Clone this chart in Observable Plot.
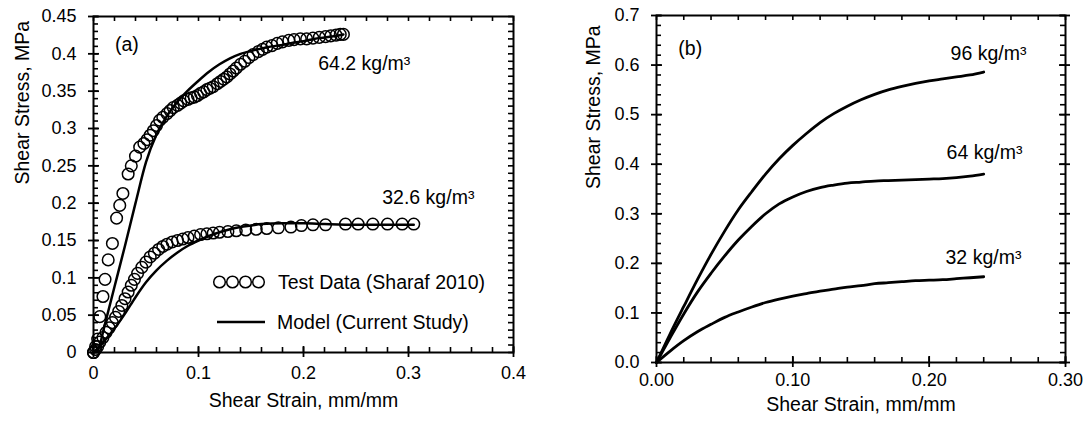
<!DOCTYPE html>
<html><head><meta charset="utf-8">
<script src="https://cdn.jsdelivr.net/npm/d3@7"></script>
<script src="https://cdn.jsdelivr.net/npm/@observablehq/plot@0.6"></script>
<style>
html,body{margin:0;padding:0;background:#fff;}
#wrap{position:relative;width:1091px;height:425px;overflow:hidden;font-family:"Liberation Sans",Arial,sans-serif;color:#000;}
#left{position:absolute;left:0;top:0;}
#right{position:absolute;left:545px;top:0;}
.lg{position:absolute;font-size:19.5px;line-height:20px;white-space:nowrap;color:#000;}
#lgsym{position:absolute;left:205px;top:270px;}
</style></head><body>
<div id="wrap"><div id="left"></div><div id="right"></div>
<svg id="lgsym" width="70" height="62"></svg>
<div class="lg" style="left:278px;top:272px;">Test Data (Sharaf 2010)</div>
<div class="lg" style="left:277px;top:312px;">Model (Current Study)</div>
</div>
<script>
// ---------- Panel (a): test data and model ----------
const test642Strain = [0,0.002,0.004,0.006,0.009,0.011,0.014,0.018,0.022,0.025,0.028,0.033,0.036,0.040,0.044,0.048,0.051,0.054,0.057,0.060,0.063,0.066,0.070,0.073,0.076,0.080,0.083,0.086,0.090,0.093,0.096,0.099,0.102,0.105,0.108,0.111,0.114,0.118,0.121,0.124,0.127,0.130,0.133,0.136,0.140,0.144,0.148,0.152,0.157,0.161,0.165,0.170,0.175,0.180,0.186,0.191,0.197,0.203,0.209,0.215,0.221,0.226,0.231,0.235,0.238];
const test642Stress = [0,0.008,0.018,0.048,0.075,0.098,0.124,0.146,0.180,0.197,0.213,0.239,0.250,0.263,0.275,0.280,0.285,0.291,0.297,0.304,0.311,0.315,0.320,0.324,0.328,0.331,0.334,0.337,0.339,0.341,0.342,0.344,0.347,0.349,0.352,0.354,0.356,0.360,0.363,0.366,0.369,0.373,0.377,0.381,0.386,0.390,0.395,0.399,0.403,0.406,0.409,0.411,0.414,0.416,0.418,0.419,0.420,0.420,0.421,0.422,0.423,0.424,0.425,0.426,0.426];
const test326Strain = [0,0.002,0.004,0.006,0.009,0.012,0.015,0.018,0.021,0.024,0.027,0.030,0.033,0.036,0.039,0.042,0.046,0.050,0.054,0.058,0.062,0.066,0.070,0.075,0.080,0.085,0.090,0.096,0.102,0.108,0.114,0.120,0.128,0.136,0.145,0.155,0.165,0.176,0.188,0.198,0.209,0.221,0.240,0.252,0.266,0.280,0.294,0.305];
const test326Stress = [0,0.004,0.008,0.014,0.020,0.027,0.033,0.040,0.047,0.055,0.063,0.072,0.081,0.090,0.098,0.106,0.114,0.121,0.128,0.133,0.138,0.142,0.145,0.148,0.150,0.152,0.154,0.156,0.158,0.159,0.160,0.161,0.162,0.163,0.164,0.165,0.166,0.167,0.168,0.170,0.171,0.171,0.172,0.172,0.172,0.172,0.172,0.172];
const model642Strain = [0,0.005,0.01,0.02,0.03,0.04,0.05,0.06,0.07,0.08,0.09,0.10,0.11,0.12,0.13,0.14,0.15,0.16,0.17,0.18,0.19,0.20,0.21,0.22,0.23,0.238];
const model642Stress = [0,0.006,0.033,0.088,0.143,0.200,0.255,0.292,0.317,0.336,0.351,0.364,0.376,0.386,0.394,0.400,0.404,0.407,0.410,0.412,0.415,0.417,0.420,0.422,0.424,0.426];
const model326Strain = [0,0.01,0.02,0.03,0.04,0.05,0.06,0.07,0.08,0.09,0.10,0.11,0.12,0.13,0.14,0.15,0.16,0.18,0.20,0.22,0.25,0.28,0.305];
const model326Stress = [0,0.015,0.032,0.052,0.074,0.094,0.110,0.123,0.134,0.143,0.150,0.156,0.161,0.165,0.168,0.170,0.172,0.173,0.173,0.172,0.171,0.171,0.171];

// ---------- Panel (b): model curves ----------
const modelBStrain = [0,0.01,0.02,0.03,0.04,0.05,0.06,0.07,0.08,0.09,0.10,0.11,0.12,0.13,0.14,0.15,0.16,0.17,0.18,0.19,0.20,0.21,0.22,0.23,0.24];
const stress96 = [0,0.058,0.113,0.167,0.218,0.265,0.308,0.345,0.380,0.411,0.438,0.462,0.484,0.502,0.517,0.530,0.541,0.550,0.557,0.563,0.568,0.572,0.576,0.580,0.586];
const stress64 = [0,0.050,0.098,0.142,0.180,0.215,0.247,0.275,0.300,0.320,0.334,0.345,0.353,0.358,0.362,0.364,0.366,0.367,0.368,0.369,0.370,0.371,0.373,0.376,0.380];
const stress32 = [0,0.023,0.044,0.062,0.077,0.091,0.102,0.112,0.121,0.128,0.134,0.139,0.144,0.148,0.152,0.155,0.159,0.161,0.163,0.165,0.166,0.167,0.169,0.171,0.173];

// ---------- Axes, ticks and labels ----------
const aXDomain = [0, 0.4], aYDomain = [0, 0.45];
const bXDomain = [0, 0.3], bYDomain = [0, 0.7];
const aXTicks = [0,0.1,0.2,0.3,0.4];
const aYTicks = [0,0.05,0.1,0.15,0.2,0.25,0.3,0.35,0.4,0.45];
const bXTicks = [0,0.1,0.2,0.3];
const bYTicks = [0,0.1,0.2,0.3,0.4,0.5,0.6,0.7];
const aLabels = [
  {x:0.0205, y:0.4125, text:"(a)"},
  {x:0.214, y:0.387, text:"64.2 kg/m³"},
  {x:0.275, y:0.2076, text:"32.6 kg/m³"}
];
const bLabels = [
  {x:0.016, y:0.633, text:"(b)"},
  {x:0.2157, y:0.623, text:"96 kg/m³"},
  {x:0.2128, y:0.4236, text:"64 kg/m³"},
  {x:0.212, y:0.2118, text:"32 kg/m³"}
];
const xTitle = "Shear Strain, mm/mm";
const yTitle = "Shear Stress, MPa";

const pts = (xs, ys) => xs.map((x, i) => ({x, y: ys[i]}));
const range = (a, b, s) => d3.range(Math.round((b - a) / s) + 1).map(i => +(a + i * s).toFixed(4));
const font = "Liberation Sans, Arial, sans-serif";

function boxAxes(xd, yd, majorX, majorY, minorX, minorY, fmtX, fmtY, dyX, rightMajor) {
  const xa = xd[0], xb = xd[1], ya = yd[0], yb = yd[1];
  return [
    Plot.text(majorX, {x: d => d, frameAnchor: "bottom", dy: dyX, text: fmtX, fontSize: 18, fill: "#000"}),
    Plot.text(majorY, {y: d => d, frameAnchor: "left", dx: -17, textAnchor: "end", text: fmtY, fontSize: 18, fill: "#000"}),
    Plot.ruleX(minorX, {x: d => d, y1: ya, y2: ya, insetBottom: 5, stroke: "#000", strokeWidth: 1.6}),
    Plot.ruleX(minorX, {x: d => d, y1: yb, y2: yb, insetTop: 5, stroke: "#000", strokeWidth: 1.6}),
    Plot.ruleY(minorY, {y: d => d, x1: xa, x2: xa, insetLeft: 5, stroke: "#000", strokeWidth: 1.6}),
    Plot.ruleY(minorY, {y: d => d, x1: xb, x2: xb, insetRight: 5, stroke: "#000", strokeWidth: 1.6}),
    Plot.ruleX(majorX, {x: d => d, y1: ya, y2: ya, insetTop: 5, insetBottom: 6, stroke: "#000", strokeWidth: 1.8}),
    Plot.ruleY(majorY, {y: d => d, x1: xa, x2: xa, insetRight: 5, insetLeft: 6, stroke: "#000", strokeWidth: 1.8}),
    ...(rightMajor ? [Plot.ruleY(majorY, {y: d => d, x1: xb, x2: xb, insetLeft: 5, insetRight: 6, stroke: "#000", strokeWidth: 1.8})] : []),
    Plot.frame({stroke: "#000", strokeWidth: 2})
  ];
}

const left = Plot.plot({
  width: 545, height: 425,
  marginLeft: 93, marginRight: 32, marginTop: 16, marginBottom: 73,
  style: {fontFamily: font, color: "#000", background: "transparent", overflow: "visible"},
  x: {domain: aXDomain, axis: null}, y: {domain: aYDomain, axis: null},
  marks: [
    Plot.dot(pts(test642Strain, test642Stress), {x: "x", y: "y", r: 5.8, stroke: "#000", strokeWidth: 1.5}),
    Plot.dot(pts(test326Strain, test326Stress), {x: "x", y: "y", r: 5.8, stroke: "#000", strokeWidth: 1.5}),
    Plot.line(pts(model642Strain, model642Stress), {x: "x", y: "y", stroke: "#000", strokeWidth: 2.5, curve: "monotone-x"}),
    Plot.line(pts(model326Strain, model326Stress), {x: "x", y: "y", stroke: "#000", strokeWidth: 2.5, curve: "monotone-x"}),
    Plot.text(aLabels, {x: "x", y: "y", text: "text", textAnchor: "start", fontSize: 19.5, fill: "#000"}),
    Plot.text([xTitle], {frameAnchor: "bottom", dy: 54, fontSize: 19.5, fill: "#000"}),
    Plot.text([yTitle], {frameAnchor: "left", dx: -71, rotate: -90, fontSize: 19.5, fill: "#000"}),
    ...boxAxes(aXDomain, aYDomain, aXTicks, aYTicks, range(0, 0.4, 0.02), range(0, 0.45, 0.01), d => String(d), d => String(d), 26, false)
  ]
});
document.getElementById("left").append(left);

const right = Plot.plot({
  width: 546, height: 425,
  marginLeft: 111, marginRight: 26, marginTop: 15, marginBottom: 63,
  style: {fontFamily: font, color: "#000", background: "transparent", overflow: "visible"},
  x: {domain: bXDomain, axis: null}, y: {domain: bYDomain, axis: null},
  marks: [
    Plot.line(pts(modelBStrain, stress96), {x: "x", y: "y", stroke: "#000", strokeWidth: 2.8, curve: "monotone-x"}),
    Plot.line(pts(modelBStrain, stress64), {x: "x", y: "y", stroke: "#000", strokeWidth: 2.8, curve: "monotone-x"}),
    Plot.line(pts(modelBStrain, stress32), {x: "x", y: "y", stroke: "#000", strokeWidth: 2.8, curve: "monotone-x"}),
    Plot.text(bLabels, {x: "x", y: "y", text: "text", textAnchor: "start", fontSize: 19.5, fill: "#000"}),
    Plot.text([xTitle], {frameAnchor: "bottom", dy: 48, fontSize: 19.5, fill: "#000"}),
    Plot.text([yTitle], {frameAnchor: "left", dx: -63, rotate: -90, fontSize: 19.5, fill: "#000"}),
    ...boxAxes(bXDomain, bYDomain, bXTicks, bYTicks, range(0, 0.3, 0.02), range(0, 0.7, 0.02), d3.format(".2f"), d3.format(".1f"), 23, true)
  ]
});
document.getElementById("right").append(right);

// legend symbols (panel a)
const lg = d3.select("#lgsym");
[14.5, 27.5, 40.5, 53.5].forEach(cx => lg.append("circle").attr("cx", cx).attr("cy", 12).attr("r", 5.8).attr("fill", "none").attr("stroke", "#000").attr("stroke-width", 1.5));
lg.append("line").attr("x1", 12).attr("x2", 60).attr("y1", 52).attr("y2", 52).attr("stroke", "#000").attr("stroke-width", 2.5);
</script>
</body></html>
